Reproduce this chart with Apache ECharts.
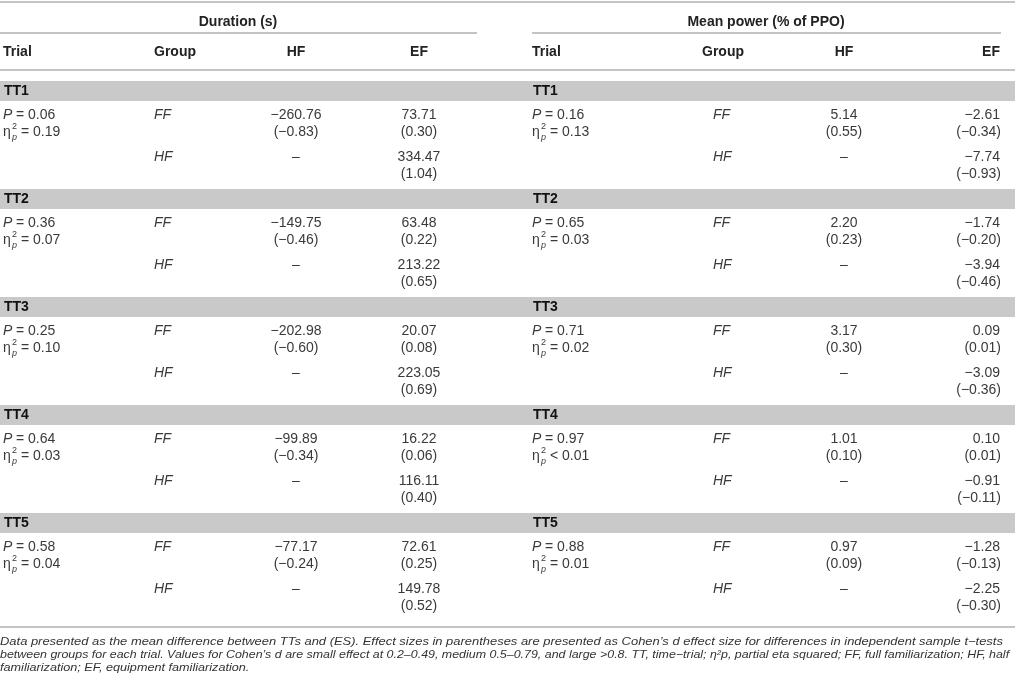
<!DOCTYPE html>
<html>
<head>
<meta charset="utf-8">
<script src="https://cdn.jsdelivr.net/npm/echarts@6/dist/echarts.min.js"></script>
<style>
  html, body { margin: 0; padding: 0; background: #fff; }
  #main { width: 1015px; height: 686px; }
</style>
</head>
<body>
<div id="main"></div>
<script>
// table data
var trials = ['TT1', 'TT2', 'TT3', 'TT4', 'TT5'];

// Duration (s)
var durP = ['0.06', '0.36', '0.25', '0.64', '0.58'];
var durEta = ['= 0.19', '= 0.07', '= 0.10', '= 0.03', '= 0.04'];
var durFFvsHF = ['−260.76', '−149.75', '−202.98', '−99.89', '−77.17'];
var durFFvsHFes = ['(−0.83)', '(−0.46)', '(−0.60)', '(−0.34)', '(−0.24)'];
var durFFvsEF = ['73.71', '63.48', '20.07', '16.22', '72.61'];
var durFFvsEFes = ['(0.30)', '(0.22)', '(0.08)', '(0.06)', '(0.25)'];
var durHFvsEF = ['334.47', '213.22', '223.05', '116.11', '149.78'];
var durHFvsEFes = ['(1.04)', '(0.65)', '(0.69)', '(0.40)', '(0.52)'];

// Mean power (% of PPO)
var powP = ['0.16', '0.65', '0.71', '0.97', '0.88'];
var powEta = ['= 0.13', '= 0.03', '= 0.02', '< 0.01', '= 0.01'];
var powFFvsHF = ['5.14', '2.20', '3.17', '1.01', '0.97'];
var powFFvsHFes = ['(0.55)', '(0.23)', '(0.30)', '(0.10)', '(0.09)'];
var powFFvsEF = ['−2.61', '−1.74', '0.09', '0.10', '−1.28'];
var powFFvsEFes = ['(−0.34)', '(−0.20)', '(0.01)', '(0.01)', '(−0.13)'];
var powHFvsEF = ['−7.74', '−3.94', '−3.09', '−0.91', '−2.25'];
var powHFvsEFes = ['(−0.93)', '(−0.46)', '(−0.36)', '(−0.11)', '(−0.30)'];

var footnote = [
  'Data presented as the mean difference between TTs and (ES). Effect sizes in parentheses are presented as Cohen\u2019s d effect size for differences in independent sample t\u2212tests',
  'between groups for each trial. Values for Cohen\u2019s d are small effect at 0.2\u20130.49, medium 0.5\u20130.79, and large >0.8. TT, time\u2212trial; \u03B7\u00B2p, partial eta squared; FF, full familiarization; HF, half',
  'familiarization; EF, equipment familiarization.'
];
var footStretch = [1.125, 1.08, 1.1];

var FONT = '"Liberation Sans", Arial, Helvetica, sans-serif';
var TXT = '#3a3a3a';
var LINE = '#c4c4c4';
var BAND = '#c9c9c9';

var els = [];

function txt(x, y, s, opt) {
  opt = opt || {};
  var a = opt.align || 'left';
  els.push({
    type: 'text', x: x, y: y, z: 10,
    scaleX: opt.scaleX || 1,
    style: {
      text: s,
      fill: opt.color || TXT,
      fontFamily: FONT,
      fontSize: opt.size || 14,
      fontWeight: opt.bold ? 'bold' : 'normal',
      fontStyle: opt.italic ? 'italic' : 'normal',
      align: a, textAlign: a,
      verticalAlign: 'middle', textVerticalAlign: 'middle'
    }
  });
}
function hline(x1, x2, y, w) {
  els.push({
    type: 'line', z: 5,
    shape: { x1: x1, y1: y, x2: x2, y2: y },
    style: { stroke: LINE, lineWidth: w || 2 }
  });
}
function eta(x, y, s) {
  txt(x, y, '\u03B7');
  txt(x + 9, y - 5, '2', { size: 9 });
  txt(x + 9, y + 5, 'p', { size: 9, italic: true });
  txt(x + 18, y, s);
}

// rules
hline(0, 1015, 2);
hline(0, 477, 33);
hline(532, 1001, 33);
hline(0, 1015, 70);
hline(0, 1015, 627);

// group headers
txt(238, 22, 'Duration (s)', { bold: true, color: '#222', align: 'center' });
txt(766, 22, 'Mean power (% of PPO)', { bold: true, color: '#222', align: 'center' });

// column headers
var hy = 52;
txt(3, hy, 'Trial', { bold: true, color: '#222' });
txt(154, hy, 'Group', { bold: true, color: '#222' });
txt(296, hy, 'HF', { bold: true, color: '#222', align: 'center' });
txt(419, hy, 'EF', { bold: true, color: '#222', align: 'center' });
txt(532, hy, 'Trial', { bold: true, color: '#222' });
txt(702, hy, 'Group', { bold: true, color: '#222' });
txt(844, hy, 'HF', { bold: true, color: '#222', align: 'center' });
txt(1000, hy, 'EF', { bold: true, color: '#222', align: 'right' });

trials.forEach(function (t, i) {
  var c = 91 + 108 * i;
  els.push({
    type: 'rect', z: 1,
    shape: { x: 0, y: c - 10, width: 1015, height: 20 },
    style: { fill: BAND }
  });
  txt(4, c, t, { bold: true, color: '#111' });
  txt(533, c, t, { bold: true, color: '#111' });

  var r1 = c + 24, r2 = c + 41, r3 = c + 66, r4 = c + 83;

  // Duration block
  txt(3, r1, 'P', { italic: true });
  txt(12, r1, ' = ' + durP[i]);
  eta(3, r2, durEta[i]);
  txt(154, r1, 'FF', { italic: true });
  txt(154, r3, 'HF', { italic: true });
  txt(296, r1, durFFvsHF[i], { align: 'center' });
  txt(296, r2, durFFvsHFes[i], { align: 'center' });
  txt(296, r3, '\u2013', { align: 'center' });
  txt(419, r1, durFFvsEF[i], { align: 'center' });
  txt(419, r2, durFFvsEFes[i], { align: 'center' });
  txt(419, r3, durHFvsEF[i], { align: 'center' });
  txt(419, r4, durHFvsEFes[i], { align: 'center' });

  // Mean power block
  txt(532, r1, 'P', { italic: true });
  txt(541, r1, ' = ' + powP[i]);
  eta(532, r2, powEta[i]);
  txt(713, r1, 'FF', { italic: true });
  txt(713, r3, 'HF', { italic: true });
  txt(844, r1, powFFvsHF[i], { align: 'center' });
  txt(844, r2, powFFvsHFes[i], { align: 'center' });
  txt(844, r3, '\u2013', { align: 'center' });
  txt(1000, r1, powFFvsEF[i], { align: 'right' });
  txt(1001, r2, powFFvsEFes[i], { align: 'right' });
  txt(1000, r3, powHFvsEF[i], { align: 'right' });
  txt(1001, r4, powHFvsEFes[i], { align: 'right' });
});

footnote.forEach(function (line, k) {
  txt(0, 642 + 13 * k, line, { italic: true, size: 11.5, scaleX: footStretch[k], color: '#333' });
});

var chart = echarts.init(document.getElementById('main'), null, { renderer: 'canvas' });
chart.setOption({
  backgroundColor: '#ffffff',
  animation: false,
  graphic: { elements: els }
});
</script>
</body>
</html>
